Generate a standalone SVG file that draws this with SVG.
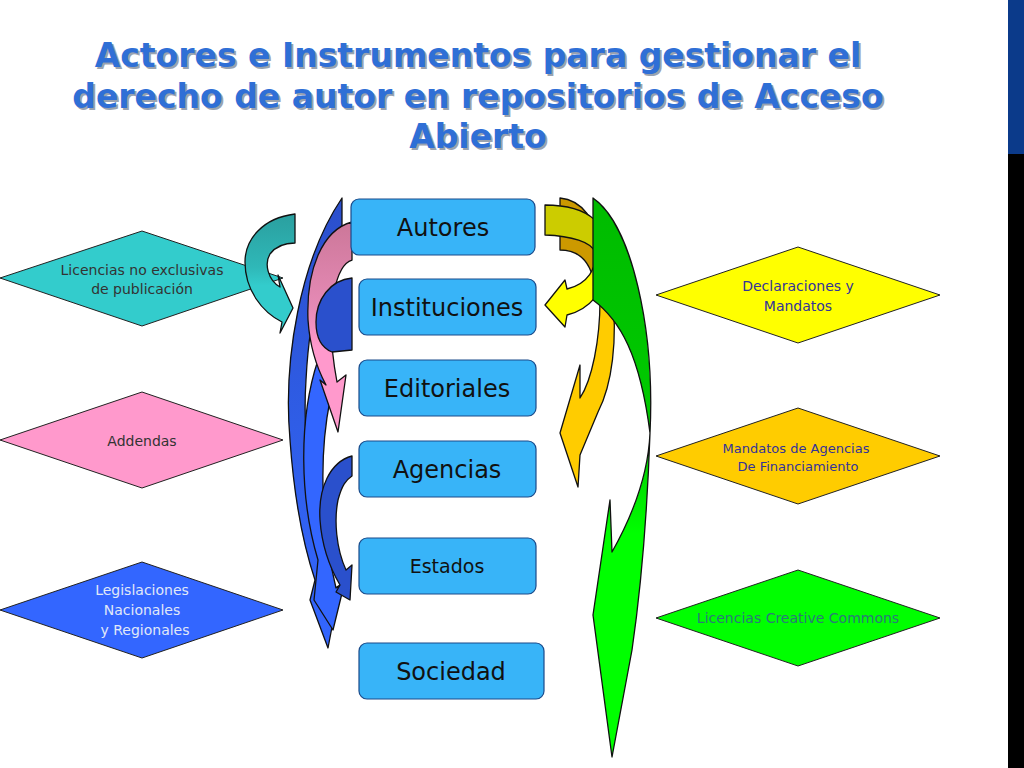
<svg xmlns="http://www.w3.org/2000/svg" width="1024" height="768" viewBox="0 0 1024 768">
<style>
.t{font-family:"DejaVu Sans",sans-serif;font-weight:bold;font-size:33px;fill:#2f6fd6;text-anchor:middle}
.ts{font-family:"DejaVu Sans",sans-serif;font-weight:bold;font-size:33px;fill:#9aa3b0;text-anchor:middle}
.box{fill:#38b4f8;stroke:#1a4a8a;stroke-width:1.2}
.bt{font-family:"DejaVu Sans",sans-serif;font-size:24px;fill:#111;text-anchor:middle}
.dt{font-family:"DejaVu Sans",sans-serif;font-size:14px;text-anchor:middle}
.d{stroke:#222;stroke-width:1}
.a{stroke:#111;stroke-width:1.3;stroke-linejoin:round}
</style>
<defs>
<linearGradient id="gTeal" x1="0" y1="0" x2="0" y2="1"><stop offset="0" stop-color="#2a9f9f"/><stop offset="0.45" stop-color="#2fb8b8"/><stop offset="0.6" stop-color="#33cccc"/></linearGradient>
<linearGradient id="gBlue" x1="0" y1="0" x2="0" y2="1"><stop offset="0" stop-color="#2b4fcc"/><stop offset="0.5" stop-color="#2f5de6"/><stop offset="1" stop-color="#3366ff"/></linearGradient>
<linearGradient id="gPink" x1="0" y1="0" x2="0" y2="1"><stop offset="0" stop-color="#cc7799"/><stop offset="0.4" stop-color="#e58ab5"/><stop offset="0.6" stop-color="#ff99cc"/></linearGradient>
<linearGradient id="gYel" x1="0" y1="0" x2="0" y2="1"><stop offset="0" stop-color="#cccc00"/><stop offset="0.45" stop-color="#cccc00"/><stop offset="0.6" stop-color="#ffff00"/></linearGradient>
<linearGradient id="gGreen" x1="0" y1="0" x2="0" y2="1"><stop offset="0" stop-color="#00bb00"/><stop offset="0.45" stop-color="#00cc00"/><stop offset="0.6" stop-color="#00ff00"/></linearGradient>
</defs>
<rect width="1024" height="768" fill="#ffffff"/>
<rect x="1008" y="0" width="16" height="154" fill="#0b3a8a"/>
<rect x="1008" y="154" width="16" height="614" fill="#000"/>

<g id="title">
<text class="ts" x="480" y="69">Actores e Instrumentos para gestionar el</text>
<text class="ts" x="480" y="110">derecho de autor en repositorios de Acceso</text>
<text class="ts" x="480" y="150">Abierto</text>
<text class="t" x="478" y="67">Actores e Instrumentos para gestionar el</text>
<text class="t" x="478" y="108">derecho de autor en repositorios de Acceso</text>
<text class="t" x="478" y="148">Abierto</text>
</g>

<g id="d-licencias"><polygon class="d" points="0,278 142,231 283,278 142,326" fill="#33cccc"/>
<text class="dt" x="142" y="275" fill="#333">Licencias no exclusivas</text><text class="dt" x="142" y="294" fill="#333">de publicación</text></g>
<g id="d-addendas"><polygon class="d" points="0,440 142,392 283,440 142,488" fill="#ff99cc"/>
<text class="dt" x="142" y="446" fill="#333">Addendas</text></g>
<g id="d-legis"><polygon class="d" points="0,610 142,562 283,610 142,658" fill="#3366ff"/>
<text class="dt" x="142" y="595" fill="#e0e8f8">Legislaciones</text><text class="dt" x="142" y="615" fill="#e0e8f8">Nacionales</text><text class="dt" x="145" y="635" fill="#e0e8f8">y Regionales</text></g>
<g id="d-decl"><polygon class="d" points="656,295 798,247 940,295 798,343" fill="#ffff00"/>
<text class="dt" x="798" y="291" fill="#333399">Declaraciones y</text><text class="dt" x="798" y="311" fill="#333399">Mandatos</text></g>
<g id="d-mand"><polygon class="d" points="656,456 798,408 940,456 798,504" fill="#ffcc00"/>
<text class="dt" x="796" y="453" fill="#333399" style="font-size:13px">Mandatos de Agencias</text><text class="dt" x="798" y="471" fill="#333399" style="font-size:13px">De Financiamiento</text></g>
<g id="d-cc"><polygon class="d" points="656,618 798,570 940,618 798,666" fill="#00ff00"/>
<text class="dt" x="798" y="623" fill="#2a7a7a">Licencias Creative Commons</text></g>

<g id="connectors">
<path class="a" fill="url(#gTeal)" d="M295,214 C262,218 245,240 245,262 C245,290 262,312 282,322 L280,333 L293,308 L278,275 L280,287 C268,280 264,264 270,254 C276,246 285,243 295,243 Z"/>
<path class="a" fill="url(#gBlue)" d="M342,198 C300,260 283,360 290,440 C295,510 305,550 315,580 L310,600 L328,648 L340,585 L332,590 C312,520 302,440 306,380 C310,300 328,255 342,242 Z"/>
<path class="a" fill="#3366ff" d="M318,360 C298,420 300,500 318,560 L314,600 L333,630 L344,585 L336,588 C322,530 318,460 330,400 Z"/>
<path class="a" fill="url(#gPink)" d="M352,222 C322,230 306,270 308,320 C310,350 318,370 326,385 L320,380 L338,432 L346,375 L337,382 C331,350 329,320 334,292 C338,272 345,262 352,260 Z"/>
<path class="a" fill="#2a50cc" d="M352,278 C330,280 316,300 316,322 C316,338 322,348 332,352 L352,350 Z"/>
<path class="a" fill="#2a50cc" d="M352,456 C330,462 318,488 320,520 C322,548 330,568 340,585 L336,592 L350,600 L352,565 L346,570 C336,548 334,520 338,500 C342,485 346,480 352,476 Z"/>
<path class="a" fill="#cc9900" d="M560,198 C582,200 596,220 600,248 L594,282 C590,262 580,250 560,250 Z"/>
<path class="a" fill="#ffcc00" d="M612,290 C618,340 612,385 598,412 L580,455 L578,487 L560,433 L580,365 L580,398 C592,380 600,340 600,300 Z"/>
<path class="a" fill="url(#gYel)" d="M545,205 C590,205 610,225 609,260 C607,292 588,310 567,315 L565,327 L545,305 L565,280 L567,289 C588,284 597,268 595,252 C591,242 572,236 545,235 Z"/>
<path class="a" fill="url(#gGreen)" d="M593,198 C632,225 655,330 650,433 C647,520 640,595 632,650 L612,757 L593,615 L610,500 L612,552 C630,520 648,480 650,433 C640,355 620,320 593,300 Z"/>
</g>

<g id="n-autores"><rect class="box" x="351" y="199" width="184" height="56" rx="8"/><text class="bt" x="443" y="236">Autores</text></g>
<g id="n-inst"><rect class="box" x="359" y="279" width="177" height="56" rx="8"/><text class="bt" x="447" y="316">Instituciones</text></g>
<g id="n-edit"><rect class="box" x="359" y="360" width="177" height="56" rx="8"/><text class="bt" x="447" y="397">Editoriales</text></g>
<g id="n-agen"><rect class="box" x="359" y="441" width="177" height="56" rx="8"/><text class="bt" x="447" y="478">Agencias</text></g>
<g id="n-estados"><rect class="box" x="359" y="538" width="177" height="56" rx="8"/><text class="bt" x="447" y="573" style="font-size:19px">Estados</text></g>
<g id="n-soc"><rect class="box" x="359" y="643" width="185" height="56" rx="8"/><text class="bt" x="451" y="680">Sociedad</text></g>
</svg>
